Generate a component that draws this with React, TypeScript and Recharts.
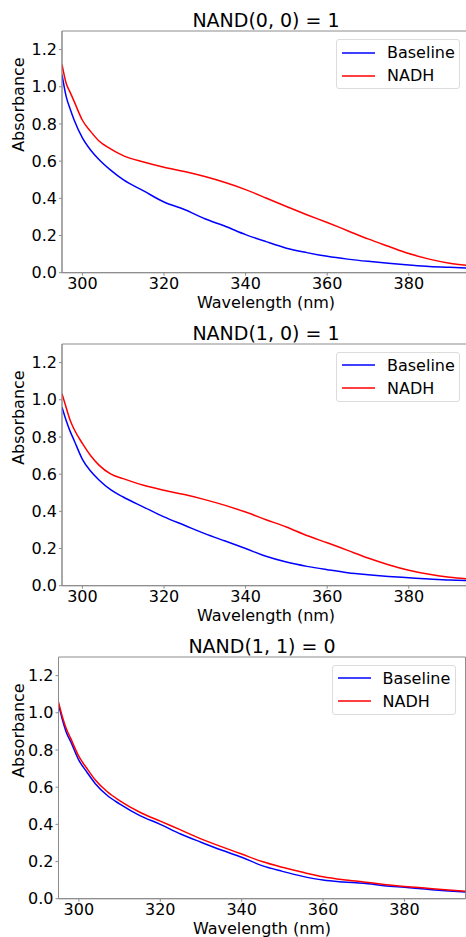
import React from "react";
import { LineChart, Line, XAxis, YAxis, Legend, ReferenceArea } from "recharts";

// Wavelength grid (nm)
const wavelengths = [295, 296, 297, 298, 300, 302, 304, 307, 310, 315, 320, 325, 330, 335, 340, 345, 350, 355, 360, 365, 370, 375, 380, 385, 390, 395];

// NAND(0, 0) = 1
const baseline00 = [1.065, 0.95, 0.88, 0.82, 0.725, 0.66, 0.61, 0.55, 0.5, 0.44, 0.38, 0.34, 0.29, 0.25, 0.205, 0.167, 0.132, 0.108, 0.088, 0.073, 0.061, 0.051, 0.042, 0.034, 0.029, 0.025];
const nadh00 = [1.12, 1.02, 0.97, 0.92, 0.82, 0.76, 0.71, 0.665, 0.63, 0.595, 0.567, 0.544, 0.517, 0.485, 0.447, 0.402, 0.356, 0.312, 0.27, 0.226, 0.182, 0.142, 0.103, 0.073, 0.051, 0.038];

// NAND(1, 0) = 1
const baseline10 = [0.96, 0.89, 0.83, 0.78, 0.68, 0.617, 0.57, 0.515, 0.477, 0.423, 0.37, 0.325, 0.28, 0.24, 0.2, 0.158, 0.127, 0.104, 0.086, 0.07, 0.059, 0.05, 0.043, 0.036, 0.03, 0.027];
const nadh10 = [1.033, 0.96, 0.89, 0.84, 0.765, 0.7, 0.65, 0.6, 0.576, 0.54, 0.513, 0.49, 0.463, 0.432, 0.396, 0.355, 0.316, 0.27, 0.231, 0.19, 0.149, 0.113, 0.083, 0.061, 0.045, 0.036];

// NAND(1, 1) = 0
const baseline11 = [1.045, 0.96, 0.89, 0.845, 0.745, 0.68, 0.62, 0.555, 0.51, 0.447, 0.4, 0.348, 0.304, 0.262, 0.223, 0.178, 0.147, 0.12, 0.1, 0.09, 0.083, 0.07, 0.061, 0.052, 0.043, 0.036];
const nadh11 = [1.058, 0.975, 0.91, 0.862, 0.765, 0.7, 0.64, 0.575, 0.528, 0.465, 0.417, 0.37, 0.322, 0.28, 0.24, 0.2, 0.169, 0.142, 0.118, 0.102, 0.09, 0.077, 0.066, 0.057, 0.048, 0.04];

const xTicks = [300, 320, 340, 360, 380];
const yTicks = [0, 0.2, 0.4, 0.6, 0.8, 1.0, 1.2];

const FONT = "'DejaVu Sans', sans-serif";
const AXIS_COLOR = "#8c8c8c";

interface PanelProps {
  title: string;
  baseline: number[];
  nadh: number[];
  top: number;
  width: number;
  yAxisWidth: number;
}

function renderLegend() {
  const rows = [
    { name: "Baseline", color: "#0000ff" },
    { name: "NADH", color: "#ff0000" },
  ];
  return (
    <div
      style={{
        border: "1px solid #dcdcdc",
        borderRadius: 3,
        background: "#fff",
        width: 124,
        height: 50,
        boxSizing: "border-box",
        fontFamily: FONT,
        fontSize: 16,
        color: "#000",
        paddingTop: 1,
      }}
    >
      {rows.map((r) => (
        <div key={r.name} style={{ display: "flex", alignItems: "center", height: 23 }}>
          <svg width={50} height={10} style={{ flex: "none" }}>
            <line x1={5} x2={38} y1={5} y2={5} stroke={r.color} strokeWidth={1.5} />
          </svg>
          <span>{r.name}</span>
        </div>
      ))}
    </div>
  );
}

function Panel({ title, baseline, nadh, top, width, yAxisWidth }: PanelProps) {
  const data = wavelengths.map((w, i) => ({ w, baseline: baseline[i], nadh: nadh[i] }));
  const plotTop = 31;
  const plotHeight = 241.7;
  const height = 330;
  const axisHeight = height - plotTop - plotHeight;
  const plotCenter = (yAxisWidth + width) / 2;

  return (
    <div style={{ position: "absolute", left: 0, top, width: 466, height, overflow: "hidden" }}>
      <LineChart
        width={width}
        height={height}
        data={data}
        margin={{ top: plotTop, right: 0, bottom: 0, left: 0 }}
      >
        <text
          x={plotCenter}
          y={20}
          textAnchor="middle"
          dominantBaseline="central"
          fontFamily={FONT}
          fontSize={19}
          fill="#000"
        >
          {title}
        </text>
        <ReferenceArea x1={295} x2={395} y1={0} y2={1.3} fill="none" stroke={AXIS_COLOR} strokeWidth={1} />
        <XAxis
          dataKey="w"
          type="number"
          domain={[295, 395]}
          ticks={xTicks}
          allowDataOverflow
          height={axisHeight}
          stroke={AXIS_COLOR}
          tickSize={3}
          tickMargin={2}
          tick={{ fill: "#000", fontSize: 16, fontFamily: FONT }}
          label={{
            value: "Wavelength (nm)",
            position: "insideBottom",
            offset: axisHeight - 35.3,
            fill: "#000",
            fontSize: 16,
            fontFamily: FONT,
          }}
        />
        <YAxis
          type="number"
          domain={[0, 1.3]}
          ticks={yTicks}
          width={yAxisWidth}
          stroke={AXIS_COLOR}
          tickSize={3}
          tickMargin={2}
          tickFormatter={(v: number) => v.toFixed(1)}
          tick={{ fill: "#000", fontSize: 16, fontFamily: FONT }}
          label={{
            value: "Absorbance",
            angle: -90,
            position: "insideLeft",
            offset: 0,
            dx: 18,
            fill: "#000",
            fontSize: 16,
            fontFamily: FONT,
          }}
        />
        <Legend
          layout="horizontal"
          verticalAlign="middle"
          align="center"
          content={renderLegend}
          wrapperStyle={{ top: plotTop + 8, left: width - 134, width: 124, height: 50 }}
        />
        <Line
          type="monotone"
          dataKey="baseline"
          stroke="#0000ff"
          strokeWidth={1.5}
          dot={false}
          isAnimationActive={false}
        />
        <Line
          type="monotone"
          dataKey="nadh"
          stroke="#ff0000"
          strokeWidth={1.5}
          dot={false}
          isAnimationActive={false}
        />
      </LineChart>
    </div>
  );
}

export default function App() {
  return (
    <div style={{ position: "absolute", left: 0, top: 0, width: 466, height: 937, overflow: "hidden", background: "#fff" }}>
      <Panel title="NAND(0, 0) = 1" baseline={baseline00} nadh={nadh00} top={0} width={470} yAxisWidth={62} />
      <Panel title="NAND(1, 0) = 1" baseline={baseline10} nadh={nadh10} top={312.7} width={470} yAxisWidth={62} />
      <Panel title="NAND(1, 1) = 0" baseline={baseline11} nadh={nadh11} top={625.7} width={465.5} yAxisWidth={58.5} />
    </div>
  );
}
